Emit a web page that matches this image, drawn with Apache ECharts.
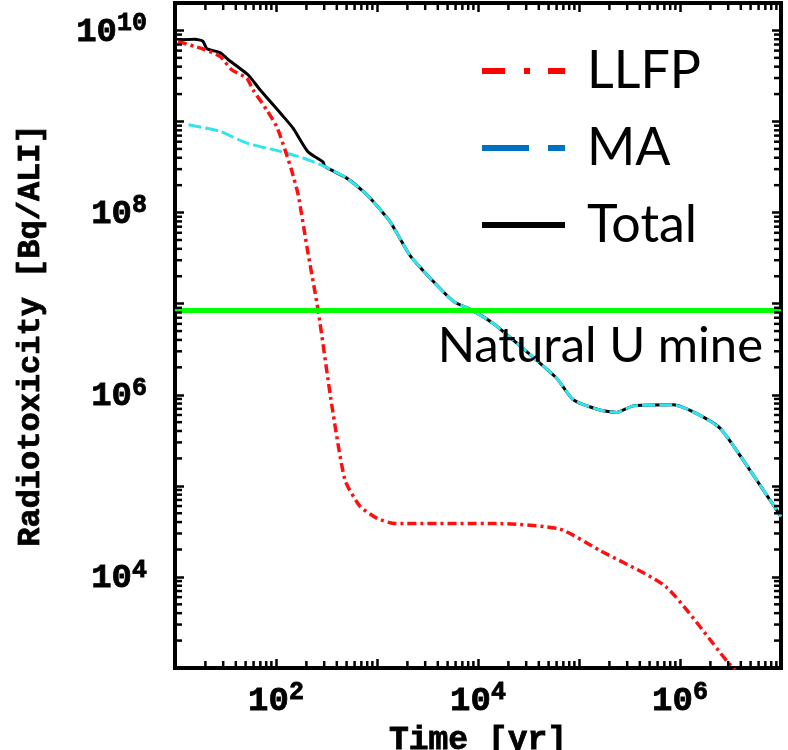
<!DOCTYPE html>
<html>
<head>
<meta charset="utf-8">
<script src="https://cdn.jsdelivr.net/npm/echarts@6/dist/echarts.min.js"></script>
<style>
  html, body { margin: 0; padding: 0; background: #ffffff; }
  #chart { width: 788px; height: 750px; }
</style>
</head>
<body>
<div id="chart"></div>
<script>
// Radiotoxicity of spent-fuel components versus cooling time
const llfpYears  = [10.7, 18.9, 27.9, 36.4, 51.3, 59.2, 80.9, 101.6, 122.7, 142.9, 166, 204, 261, 355, 482, 676, 1000, 1510, 16500, 64600, 161000, 726000, 2.9e6, 6.3e6];
const llfpValues = [7.57e9, 6.25e9, 5.19e9, 3.7e9, 3.0e9, 2.23e9, 1.34e9, 8.8e8, 4.9e8, 2.9e8, 1.56e8, 4.0e7, 8.5e6, 8.0e5, 1.16e5, 6.0e4, 4.4e4, 3.85e4, 3.85e4, 3.35e4, 1.95e4, 7.8e3, 1.2e3, 4.5e2];

const maYears  = [13.6, 27.9, 51.3, 110, 186, 305, 501, 731, 885, 1350, 2120, 3480, 5700, 8670, 14160, 30300, 60100, 87900, 161000, 236000, 345000, 859000, 1.355e6, 2.49e6, 4.9e6, 1.0e7];
const maValues = [9.2e8, 7.8e8, 5.8e8, 4.7e8, 3.97e8, 3.2e8, 2.39e8, 1.71e8, 1.38e8, 7.9e7, 3.4e7, 1.83e7, 1.06e7, 8.5e6, 6.05e6, 2.98e6, 1.52e6, 8.8e5, 6.8e5, 6.4e5, 7.55e5, 7.75e5, 6.5e5, 4.3e5, 1.5e5, 4.6e4];

const totalYears  = [11.2, 15.8, 18.9, 20.7, 27.9, 33.5, 52.8, 69.5, 114.6, 147, 207, 292, 305, 501, 731, 885, 1350, 2120, 3480, 5700, 8670, 14160, 30300, 60100, 87900, 161000, 236000, 345000, 859000, 1.355e6, 2.49e6, 4.9e6, 1.0e7];
const totalValues = [7.9e9, 8.0e9, 7.6e9, 6.3e9, 5.7e9, 4.8e9, 3.26e9, 2.23e9, 1.18e9, 8.5e8, 4.66e8, 3.6e8, 3.2e8, 2.39e8, 1.71e8, 1.38e8, 7.9e7, 3.4e7, 1.83e7, 1.06e7, 8.5e6, 6.05e6, 2.98e6, 1.52e6, 8.8e5, 6.8e5, 6.4e5, 7.55e5, 7.75e5, 6.5e5, 4.3e5, 1.5e5, 4.6e4];

// Reference level of a natural uranium mine
const naturalUraniumLevel = 8.5e6;

// Axis extents and labelled decades
const X_MIN = 10, X_MAX = 1e7;
const Y_MIN = 1e3, Y_MAX = 2e10;
const xLabelExponents = [2, 4, 6];
const yLabelExponents = [4, 6, 8, 10];

const AXIS_FONT = '"Liberation Mono", "DejaVu Sans Mono", monospace';
const TEXT_FONT = 'Lato, "Open Sans", sans-serif';
const MINOR_LEN = 7;

const pairs = (xs, ys) => xs.map((x, i) => [x, ys[i]]);

function decadeFormatter(exponents) {
  return function (value) {
    const e = Math.round(Math.log10(value));
    if (Math.abs(Math.log10(value) - e) > 1e-6 || exponents.indexOf(e) < 0) return '';
    return '{b|10}{s|' + e + '}';
  };
}

// heavy slab-serif look for the axis text
const axisText = { fontFamily: AXIS_FONT, fontWeight: 'bold', color: '#000', textBorderColor: '#000', textBorderWidth: 0.8 };

const labelRich = {
  b: Object.assign({ fontSize: 34, lineHeight: 38, verticalAlign: 'bottom' }, axisText),
  s: Object.assign({ fontSize: 25, lineHeight: 25, verticalAlign: 'top' }, axisText)
};

// log-spaced minor tick positions (2..9 x 10^k) inside an extent
function minorTicks(lo, hi) {
  const out = [];
  for (let e = Math.floor(Math.log10(lo)); e <= Math.ceil(Math.log10(hi)); e++) {
    for (let m = 2; m <= 9; m++) {
      const v = m * Math.pow(10, e);
      if (v > lo && v < hi) out.push(v);
    }
  }
  return out;
}

const tickStyle = { stroke: '#000', lineWidth: 2.5 };

const chart = echarts.init(document.getElementById('chart'), null, { renderer: 'canvas' });

const majorTick = { show: true, inside: true, length: 9, lineStyle: { color: '#000', width: 2.5 } };
const hiddenMarker = { color: 'transparent', borderColor: 'transparent', borderWidth: 0, opacity: 0 };

chart.setOption({
  animation: false,
  backgroundColor: '#ffffff',
  grid: {
    left: 175, right: 7, top: 3, bottom: 82,
    containLabel: false, outerBoundsMode: 'none',
    show: true, borderColor: '#000', borderWidth: 4, backgroundColor: 'transparent'
  },
  legend: {
    orient: 'vertical',
    left: 479, top: 41, padding: 0,
    itemWidth: 83, itemHeight: 20, itemGap: 17,
    selectedMode: false,
    itemStyle: hiddenMarker,
    textStyle: { fontFamily: TEXT_FONT, fontSize: 52, lineHeight: 60, color: '#000', padding: [0, 0, 0, 17] },
    data: [
      { name: 'LLFP', itemStyle: hiddenMarker, lineStyle: { color: '#ff0000', width: 6, type: [23, 19, 6, 18] } },
      { name: 'MA', itemStyle: hiddenMarker, lineStyle: { color: '#0070c0', width: 6, type: [47, 19] } },
      { name: 'Total', itemStyle: hiddenMarker, lineStyle: { color: '#000000', width: 6, type: 'solid' } }
    ]
  },
  xAxis: [
    {
      type: 'log', logBase: 10, min: X_MIN, max: X_MAX, interval: 1, position: 'bottom',
      axisLine: { show: false }, splitLine: { show: false }, axisTick: majorTick,
      axisLabel: { formatter: decadeFormatter(xLabelExponents), rich: labelRich, margin: 12, hideOverlap: false },
      name: 'Time [yr]', nameLocation: 'middle', nameGap: 50,
      nameTextStyle: Object.assign({ fontSize: 33 }, axisText)
    },
    {
      type: 'log', logBase: 10, min: X_MIN, max: X_MAX, interval: 1, position: 'top',
      axisLine: { show: false }, splitLine: { show: false }, axisTick: majorTick, axisLabel: { show: false }
    }
  ],
  yAxis: [
    {
      type: 'log', logBase: 10, min: Y_MIN, max: Y_MAX, interval: 1, position: 'left',
      axisLine: { show: false }, splitLine: { show: false }, axisTick: majorTick,
      axisLabel: { formatter: decadeFormatter(yLabelExponents), rich: labelRich, margin: 28, hideOverlap: false },
      name: 'Radiotoxicity [Bq/ALI]', nameLocation: 'middle', nameGap: 128, nameRotate: 90,
      nameTextStyle: Object.assign({ fontSize: 32 }, axisText)
    },
    {
      type: 'log', logBase: 10, min: Y_MIN, max: Y_MAX, interval: 1, position: 'right',
      axisLine: { show: false }, splitLine: { show: false }, axisTick: majorTick, axisLabel: { show: false }
    }
  ],
  graphic: [
    {
      type: 'text', right: 25, top: 322, z: 10,
      style: { text: 'Natural U mine', font: '49px ' + TEXT_FONT, fill: '#000' }
    }
  ],
  series: [
    {
      name: 'Natural U mine', type: 'line', data: [], z: 1,
      markLine: {
        silent: true, symbol: 'none', animation: false,
        label: { show: false },
        lineStyle: { color: '#00ff00', width: 5, type: 'solid' },
        data: [{ yAxis: naturalUraniumLevel }]
      }
    },
    {
      name: 'Total', type: 'line', symbol: 'none', z: 2, smooth: 0.2,
      lineStyle: { color: '#000000', width: 3 },
      data: pairs(totalYears, totalValues)
    },
    {
      name: 'MA', type: 'line', symbol: 'none', z: 3, smooth: 0.2,
      lineStyle: { color: '#33e4f0', width: 3, type: [13, 4] },
      data: pairs(maYears, maValues)
    },
    {
      name: 'LLFP', type: 'line', symbol: 'none', z: 4, smooth: 0.2,
      lineStyle: { color: '#ff1010', width: 3.5, type: [9, 4, 3, 4] },
      data: pairs(llfpYears, llfpValues)
    },
    {
      name: 'xMinorTicks', type: 'custom', silent: true, z: 5,
      data: minorTicks(X_MIN, X_MAX).map(v => [v, Y_MIN]),
      renderItem: function (params, api) {
        const b = api.coord([api.value(0), Y_MIN]);
        const t = api.coord([api.value(0), Y_MAX]);
        return {
          type: 'group', children: [
            { type: 'line', shape: { x1: b[0], y1: b[1], x2: b[0], y2: b[1] - MINOR_LEN }, style: tickStyle },
            { type: 'line', shape: { x1: t[0], y1: t[1], x2: t[0], y2: t[1] + MINOR_LEN }, style: tickStyle }
          ]
        };
      }
    },
    {
      name: 'yMinorTicks', type: 'custom', silent: true, z: 5,
      data: minorTicks(Y_MIN, Y_MAX).map(v => [X_MIN, v]),
      renderItem: function (params, api) {
        const l = api.coord([X_MIN, api.value(1)]);
        const r = api.coord([X_MAX, api.value(1)]);
        return {
          type: 'group', children: [
            { type: 'line', shape: { x1: l[0], y1: l[1], x2: l[0] + MINOR_LEN, y2: l[1] }, style: tickStyle },
            { type: 'line', shape: { x1: r[0], y1: r[1], x2: r[0] - MINOR_LEN, y2: r[1] }, style: tickStyle }
          ]
        };
      }
    }
  ]
});
</script>
</body>
</html>
